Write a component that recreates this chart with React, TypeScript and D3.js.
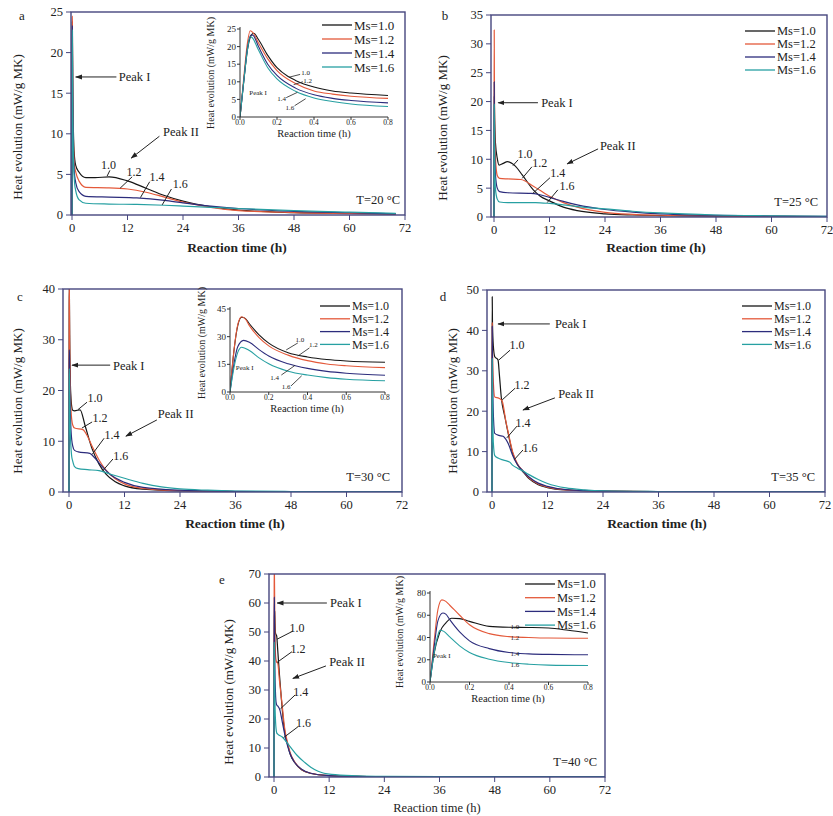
import React from "react";
import * as d3 from "d3";

type Pt = [number, number];

const seriesNames = ["Ms=1.0", "Ms=1.2", "Ms=1.4", "Ms=1.6"];
const curveTags = ["1.0", "1.2", "1.4", "1.6"];
const seriesColors = ["#161616", "#e4593a", "#2c2c7c", "#27a0a2"];
const mainTimeTicks = [0, 12, 24, 36, 48, 60, 72];
const insetTimeTicks = [0, 0.2, 0.4, 0.6, 0.8];
const temperatures = [20, 25, 30, 35, 40];

// ---- T = 20 °C : first 0.8 h (also the inset) and the long tail
const a10Early: Pt[] = [[0, 0], [0.02, 10], [0.04, 19], [0.06, 23.2], [0.075, 23.8], [0.1, 22], [0.15, 17.5], [0.2, 14], [0.26, 11.5], [0.3, 10.4], [0.4, 8.5], [0.5, 7.4], [0.6, 6.8], [0.8, 6.1]];
const a12Early: Pt[] = [[0, 0], [0.02, 11], [0.04, 21], [0.055, 24.5], [0.07, 24], [0.1, 21], [0.15, 16.5], [0.2, 13.2], [0.3, 9.5], [0.4, 7.4], [0.5, 6.5], [0.6, 5.9], [0.8, 5.3]];
const a14Early: Pt[] = [[0, 0], [0.02, 10], [0.04, 19.5], [0.06, 23.3], [0.07, 23.2], [0.1, 20], [0.15, 15], [0.2, 11.8], [0.3, 8.2], [0.4, 6.3], [0.5, 5.3], [0.6, 4.7], [0.8, 4.0]];
const a16Early: Pt[] = [[0, 0], [0.02, 10], [0.04, 19], [0.055, 22.8], [0.065, 22.6], [0.1, 19], [0.15, 14], [0.2, 10.8], [0.3, 7.3], [0.4, 5.4], [0.5, 4.4], [0.6, 3.7], [0.8, 3.0]];
const a10Late: Pt[] = [[1.5, 5.3], [3, 4.6], [5, 4.6], [8, 4.7], [12, 4.2], [16, 3.3], [20, 2.4], [24, 1.7], [30, 1.0], [36, 0.6], [48, 0.3], [60, 0.2], [70, 0.12]];
const a12Late: Pt[] = [[1.5, 4.2], [3, 3.4], [8, 3.35], [12, 3.2], [16, 2.8], [20, 2.2], [24, 1.6], [30, 0.95], [36, 0.55], [48, 0.3], [60, 0.18], [70, 0.1]];
const a14Late: Pt[] = [[1.5, 2.9], [3, 2.3], [8, 2.2], [14, 2.1], [20, 1.8], [24, 1.5], [30, 1.1], [36, 0.8], [48, 0.45], [60, 0.28], [70, 0.15]];
const a16Late: Pt[] = [[1.5, 1.9], [3, 1.45], [8, 1.35], [14, 1.3], [20, 1.2], [24, 1.1], [30, 0.95], [36, 0.8], [48, 0.55], [60, 0.35], [70, 0.2]];

// ---- T = 25 °C
const b10: Pt[] = [[0, 0], [0.03, 14], [0.06, 21], [0.1, 19], [0.3, 13], [0.7, 10.2], [1.1, 9.0], [2, 9.3], [2.9, 9.6], [4.5, 8.9], [6.1, 7.3], [8.5, 4.7], [10, 3.6], [12, 2.8], [15, 1.7], [18, 1.1], [24, 0.55], [30, 0.35], [36, 0.25], [48, 0.15], [60, 0.1], [72, 0.05]];
const b12: Pt[] = [[0, 0], [0.025, 18], [0.05, 32.4], [0.08, 25], [0.15, 15], [0.3, 10.5], [0.7, 7.2], [1.2, 6.7], [3, 6.6], [5.8, 6.5], [8.6, 5.3], [12.2, 3.5], [15, 2.5], [18, 1.7], [24, 0.8], [30, 0.45], [36, 0.3], [48, 0.18], [60, 0.1], [72, 0.05]];
const b14: Pt[] = [[0, 0], [0.03, 15], [0.05, 23.4], [0.08, 18], [0.15, 11], [0.3, 7.5], [0.7, 5], [1.2, 4.4], [3, 4.2], [8, 4.1], [9.7, 3.9], [12, 3.4], [15, 2.7], [18, 2.1], [24, 1.3], [30, 0.85], [36, 0.55], [48, 0.3], [60, 0.17], [72, 0.1]];
const b16: Pt[] = [[0, 0], [0.03, 13], [0.05, 19.5], [0.08, 15], [0.15, 8.5], [0.3, 5], [0.7, 3.1], [1.2, 2.6], [3, 2.5], [9, 2.5], [12, 2.35], [15, 2.1], [18, 1.8], [24, 1.4], [30, 1.0], [36, 0.7], [48, 0.35], [60, 0.2], [72, 0.1]];

// ---- T = 30 °C
const c10Early: Pt[] = [[0, 0], [0.02, 22], [0.04, 36], [0.06, 40.5], [0.08, 39.8], [0.1, 37], [0.15, 31], [0.2, 26.5], [0.3, 21.3], [0.4, 19], [0.5, 17.6], [0.6, 16.8], [0.8, 16.1]];
const c12Early: Pt[] = [[0, 0], [0.02, 22], [0.04, 36.5], [0.06, 40.8], [0.08, 39.5], [0.1, 36], [0.15, 29.5], [0.2, 25], [0.3, 20], [0.4, 17], [0.5, 15.2], [0.6, 14.2], [0.8, 13.2]];
const c14Early: Pt[] = [[0, 0], [0.02, 15], [0.04, 24.5], [0.07, 28], [0.1, 27], [0.15, 23], [0.2, 19.5], [0.3, 15.3], [0.4, 12.8], [0.5, 11.2], [0.6, 10.2], [0.8, 9.1]];
const c16Early: Pt[] = [[0, 0], [0.02, 13], [0.04, 21.5], [0.06, 24.3], [0.1, 22.5], [0.15, 18.5], [0.2, 15.3], [0.3, 11.3], [0.4, 9.2], [0.5, 7.8], [0.6, 6.9], [0.8, 6.1]];
const c10Late: Pt[] = [[1.2, 16], [2.4, 16.2], [3.5, 13], [5, 8.5], [6.5, 5.5], [8, 3.5], [10, 2], [12, 1.2], [16, 0.55], [24, 0.2], [36, 0.1], [48, 0.05], [72, 0.02]];
const c12Late: Pt[] = [[1.2, 12.6], [3, 12.3], [4, 11], [5, 9], [6.5, 6.3], [8, 4.3], [10, 2.6], [12, 1.6], [16, 0.7], [24, 0.25], [36, 0.1], [48, 0.05], [72, 0.02]];
const c14Late: Pt[] = [[1.2, 8.2], [2, 7.9], [4.5, 7.6], [5.5, 6.8], [7, 5.2], [9, 3.4], [12, 1.9], [16, 0.9], [24, 0.35], [36, 0.12], [48, 0.06], [72, 0.02]];
const c16Late: Pt[] = [[1.2, 5], [2, 4.6], [4, 4.4], [6.5, 4.2], [9, 3.5], [12, 2.7], [16, 1.7], [20, 1.0], [24, 0.6], [30, 0.35], [36, 0.2], [48, 0.1], [72, 0.04]];

// ---- T = 35 °C
const d10: Pt[] = [[0, 0], [0.025, 30], [0.05, 48.3], [0.1, 42], [0.3, 36], [0.6, 33.5], [1.3, 32.7], [1.6, 29], [2, 23.5], [2.8, 18.5], [3.5, 14.5], [4.5, 9.5], [5.5, 6.8], [6.7, 5.0], [8, 3.3], [10, 1.8], [12, 1.1], [16, 0.5], [24, 0.2], [36, 0.08], [48, 0.05], [72, 0.02]];
const d12: Pt[] = [[0, 0], [0.025, 28], [0.05, 42], [0.1, 36], [0.3, 27], [0.6, 23.5], [1.5, 23.2], [2.2, 22.5], [3, 17.5], [3.5, 14.8], [4.5, 9.8], [5.5, 7], [6.7, 5.2], [8, 3.5], [10, 2], [12, 1.2], [16, 0.55], [24, 0.22], [36, 0.09], [48, 0.05], [72, 0.02]];
const d14: Pt[] = [[0, 0], [0.025, 27], [0.05, 41], [0.1, 33], [0.3, 19], [0.6, 14.5], [1.5, 14], [2.4, 13.8], [2.9, 13.2], [3.5, 12], [4.5, 9], [5.5, 6.8], [6.7, 5.2], [8, 3.7], [10, 2.2], [12, 1.4], [16, 0.6], [24, 0.25], [36, 0.1], [48, 0.05], [72, 0.02]];
const d16: Pt[] = [[0, 0], [0.025, 22], [0.05, 33], [0.1, 25], [0.3, 12], [0.6, 9], [1.3, 8.4], [2.5, 7.9], [3.8, 7.4], [4.5, 6.6], [5.5, 5.9], [6.7, 5.2], [8, 4.3], [10, 3.1], [12, 2.1], [16, 1.0], [20, 0.55], [24, 0.3], [36, 0.12], [48, 0.05], [72, 0.03]];

// ---- T = 40 °C
const e10Early: Pt[] = [[0, 0], [0.02, 25], [0.05, 45], [0.08, 53], [0.11, 57.3], [0.15, 57], [0.2, 54.5], [0.3, 50], [0.4, 49.2], [0.5, 49], [0.6, 48.5], [0.7, 46.5], [0.8, 44]];
const e12Early: Pt[] = [[0, 0], [0.02, 35], [0.04, 65], [0.06, 73.8], [0.08, 72.5], [0.1, 69], [0.15, 60], [0.2, 51.5], [0.3, 43.5], [0.4, 40.8], [0.5, 40], [0.6, 39.5], [0.8, 39.3]];
const e14Early: Pt[] = [[0, 0], [0.02, 30], [0.04, 55], [0.065, 62], [0.08, 61], [0.1, 56], [0.15, 45], [0.2, 37], [0.3, 30], [0.4, 26.5], [0.5, 25.3], [0.6, 24.8], [0.8, 24.5]];
const e16Early: Pt[] = [[0, 0], [0.02, 25], [0.04, 42], [0.05, 46.5], [0.07, 45.5], [0.1, 40.5], [0.15, 32.5], [0.2, 26.5], [0.3, 20.5], [0.4, 17.5], [0.5, 16], [0.6, 15.2], [0.8, 14.8]];
const e10Late: Pt[] = [[1.2, 35], [1.6, 27], [2.2, 17], [3, 11], [3.5, 8], [4.5, 5], [6, 2.5], [8, 1.2], [12, 0.5], [18, 0.22], [24, 0.12], [36, 0.06], [72, 0.02]];
const e12Late: Pt[] = [[1.2, 33], [1.7, 26], [2.3, 17], [3, 11.5], [3.5, 8.5], [4.5, 5.2], [6, 2.6], [8, 1.3], [12, 0.5], [18, 0.22], [24, 0.12], [36, 0.06], [72, 0.02]];
const e14Late: Pt[] = [[1.3, 23], [1.8, 19], [2.5, 13.5], [3, 10.5], [3.5, 8], [4.5, 5], [6, 2.7], [8, 1.3], [12, 0.5], [18, 0.22], [24, 0.12], [36, 0.06], [72, 0.02]];
const e16Late: Pt[] = [[1.8, 13.8], [2.5, 12.5], [3.5, 10.5], [5, 7.5], [6.7, 5], [8, 3.4], [9.6, 2], [12.5, 0.9], [18, 0.4], [24, 0.2], [36, 0.1], [72, 0.03]];

type Box = { left: number; right: number; top: number; bottom: number; x0?: number };
type Tag = { text: string; at: Pt; from?: Pt; to?: Pt };
type InsetCfg = {
  box: Box; yMax: number; yTicks: number[]; series: Pt[][]; tags: Tag[];
  peakText: Pt; yTitle: [number, number]; xTitle: [number, number];
};
type PanelCfg = {
  letter: string; temp: number; box: Box; yMax: number; yTicks: number[]; series: Pt[][];
  tags: Tag[];
  peak1: { y: number; from: number; to: number; textX: number };
  peak2: { text: Pt; from: Pt; to: Pt };
  legend: { x: number; y: number; gap: number; size: number };
  yTitle: [number, number]; xTitle: [number, number]; xTitleBold: boolean;
  letterPos: [number, number]; tempPos: [number, number];
  inset?: InsetCfg;
};

const withTags = (spec: [Pt, Pt?, Pt?][]): Tag[] =>
  spec.map((s, i) => ({ text: curveTags[i], at: s[0], from: s[1], to: s[2] }));

const panels: PanelCfg[] = [
  {
    letter: "a", temp: temperatures[0],
    box: { left: 71, x0: 72, right: 405, top: 12, bottom: 215 },
    yMax: 25, yTicks: [0, 5, 10, 15, 20, 25],
    series: [a10Early.concat(a10Late), a12Early.concat(a12Late), a14Early.concat(a14Late), a16Early.concat(a16Late)],
    tags: withTags([
      [[7.9, 6.2], [8.2, 5.5], [7.6, 4.8]],
      [[13.4, 5.3], [13.0, 4.7], [10.4, 3.3]],
      [[18.4, 4.7], [16.8, 4.1], [14.8, 2.15]],
      [[23.4, 3.8], [21.5, 3.2], [19.5, 1.25]],
    ]),
    peak1: { y: 17, from: 9.6, to: 0.8, textX: 10.1 },
    peak2: { text: [19.7, 10.3], from: [18.9, 9.7], to: [12.8, 7.0] },
    legend: { x: 322, y: 25, gap: 14, size: 13 },
    yTitle: [17, 127], xTitle: [237, 247], xTitleBold: true,
    letterPos: [22, 15], tempPos: [400, 200],
    inset: {
      box: { left: 240, right: 388, top: 29, bottom: 117 },
      yMax: 25, yTicks: [0, 5, 10, 15, 20, 25],
      series: [a10Early, a12Early, a14Early, a16Early],
      tags: withTags([
        [[0.355, 12.6], [0.325, 12.1], [0.265, 11.3]],
        [[0.365, 10.4], [0.34, 10.0], [0.29, 9.2]],
        [[0.225, 5.1], [0.25, 5.5], [0.31, 7.0]],
        [[0.27, 2.8], [0.295, 3.2], [0.355, 5.2]],
      ]),
      peakText: [0.05, 7], yTitle: [214, 73], xTitle: [314, 133],
    },
  },
  {
    letter: "b", temp: temperatures[1],
    box: { left: 491, x0: 494, right: 827, top: 15, bottom: 217 },
    yMax: 35, yTicks: [0, 5, 10, 15, 20, 25, 30, 35],
    series: [b10, b12, b14, b16],
    tags: withTags([
      [[6.7, 10.9], [5.2, 9.9], [4.1, 8.9]],
      [[9.9, 9.4], [8.2, 8.7], [6.1, 6.7]],
      [[13.8, 7.6], [12.1, 6.8], [8.4, 4.1]],
      [[15.8, 5.4], [13.8, 4.7], [11.5, 2.5]],
    ]),
    peak1: { y: 19.8, from: 9.5, to: 0.9, textX: 10.2 },
    peak2: { text: [22.9, 12.3], from: [22.5, 11.8], to: [15.8, 9.2] },
    legend: { x: 745, y: 31, gap: 13, size: 12.5 },
    yTitle: [442, 128], xTitle: [656, 247], xTitleBold: true,
    letterPos: [445, 15], tempPos: [818, 202],
  },
  {
    letter: "c", temp: temperatures[2],
    box: { left: 63, x0: 69, right: 402, top: 289, bottom: 492 },
    yMax: 40, yTicks: [0, 10, 20, 30, 40],
    series: [c10Early.concat(c10Late), c12Early.concat(c12Late), c14Early.concat(c14Late), c16Early.concat(c16Late)],
    tags: withTags([
      [[5.6, 18.5], [3.9, 17.7], [1.9, 16.2]],
      [[6.7, 14.6], [5.0, 13.8], [2.8, 12.6]],
      [[9.3, 11.2], [7.6, 10.6], [5.0, 7.4]],
      [[11.2, 7.1], [9.5, 6.5], [7.4, 4.3]],
    ]),
    peak1: { y: 25, from: 8.9, to: 0.65, textX: 9.5 },
    peak2: { text: [19.2, 15.4], from: [19.0, 14.2], to: [12.3, 11.0] },
    legend: { x: 320, y: 306, gap: 12.8, size: 12 },
    yTitle: [17, 401], xTitle: [235, 523], xTitleBold: true,
    letterPos: [20, 296], tempPos: [390, 477],
    inset: {
      box: { left: 230, right: 385, top: 309, bottom: 392 },
      yMax: 45, yTicks: [0, 15, 30, 45],
      series: [c10Early, c12Early, c14Early, c16Early],
      tags: withTags([
        [[0.36, 28.2], [0.35, 26.6], [0.29, 22.8]],
        [[0.43, 25.5], [0.41, 23.9], [0.35, 19.5]],
        [[0.23, 8.1], [0.265, 9.2], [0.335, 14.4]],
        [[0.29, 2.7], [0.315, 3.3], [0.37, 8.8]],
      ]),
      peakText: [0.03, 13], yTitle: [205, 343], xTitle: [307, 408],
    },
  },
  {
    letter: "d", temp: temperatures[3],
    box: { left: 487, x0: 492, right: 825, top: 290, bottom: 492 },
    yMax: 50, yTicks: [0, 10, 20, 30, 40, 50],
    series: [d10, d12, d14, d16],
    tags: withTags([
      [[5.4, 36.4], [3.9, 35.1], [1.5, 32.7]],
      [[6.5, 26.5], [5.0, 25.7], [2.2, 22.8]],
      [[6.7, 17.1], [5.4, 16.3], [3.2, 13.4]],
      [[8.2, 10.9], [6.7, 10.4], [4.8, 8.0]],
    ]),
    peak1: { y: 41.6, from: 12.5, to: 1.3, textX: 13.6 },
    peak2: { text: [14.3, 24.3], from: [13.6, 23.3], to: [6.7, 20.3] },
    legend: { x: 742, y: 306, gap: 12.8, size: 12 },
    yTitle: [452, 401], xTitle: [657, 523], xTitleBold: true,
    letterPos: [443, 296], tempPos: [815, 477],
  },
  {
    letter: "e", temp: temperatures[4],
    box: { left: 269, x0: 274, right: 605, top: 574, bottom: 777 },
    yMax: 70, yTicks: [0, 10, 20, 30, 40, 50, 60, 70],
    series: [e10Early.concat(e10Late), e12Early.concat(e12Late), e14Early.concat(e14Late), e16Early.concat(e16Late)],
    tags: withTags([
      [[5.0, 51.5], [4.1, 50.3], [0.65, 47.5]],
      [[5.2, 44.3], [3.9, 43.2], [0.65, 39.5]],
      [[5.8, 29.5], [4.6, 28.3], [1.4, 23.5]],
      [[6.4, 18.8], [5.2, 17.3], [2.1, 13.6]],
    ]),
    peak1: { y: 60, from: 11.5, to: 0.7, textX: 12.2 },
    peak2: { text: [12.0, 39.7], from: [11.3, 38.3], to: [4.1, 34] },
    legend: { x: 525, y: 584, gap: 13.7, size: 12.5 },
    yTitle: [228, 692], xTitle: [437, 808], xTitleBold: false,
    letterPos: [222, 579], tempPos: [597, 762],
    inset: {
      box: { left: 430, right: 588, top: 593, bottom: 682 },
      yMax: 80, yTicks: [0, 20, 40, 60, 80],
      series: [e10Early, e12Early, e14Early, e16Early],
      tags: withTags([[[0.43, 49.5]], [[0.43, 40]], [[0.43, 25.5]], [[0.43, 15.5]]]),
      peakText: [0.015, 24], yTitle: [403, 632], xTitle: [508, 698],
    },
  },
];

const FONT = "'Liberation Serif', 'Times New Roman', serif";
const INK = "#222";
const FRAME = "#46467e";

function Inset({ cfg, id }: { cfg: InsetCfg; id: string }) {
  const { box } = cfg;
  const x = d3.scaleLinear().domain([0, 0.8]).range([box.left, box.right]);
  const y = d3.scaleLinear().domain([0, cfg.yMax]).range([box.bottom, box.top]);
  const line = d3.line<Pt>().x((d) => x(d[0])).y((d) => y(d[1])).curve(d3.curveMonotoneX);
  const clip = `inset-clip-${id}`;
  return (
    <g>
      <clipPath id={clip}>
        <rect x={box.left} y={box.top - 2} width={box.right - box.left + 2} height={box.bottom - box.top + 2} />
      </clipPath>
      <g clipPath={`url(#${clip})`}>
        {cfg.series.map((s, i) => (
          <path key={i} d={line(s) ?? ""} fill="none" stroke={seriesColors[i]} strokeWidth={1.1} />
        ))}
      </g>
      <line x1={box.left} x2={box.left} y1={box.top - 2} y2={box.bottom} stroke="#333" strokeWidth={1} />
      <line x1={box.left} x2={box.right} y1={box.bottom} y2={box.bottom} stroke="#333" strokeWidth={1} />
      {cfg.yTicks.map((v) => (
        <g key={v}>
          <line x1={box.left - 3} x2={box.left} y1={y(v)} y2={y(v)} stroke="#333" />
          <text x={box.left - 4} y={y(v)} dy="0.35em" textAnchor="end" fontSize={9} fill={INK}>{v}</text>
        </g>
      ))}
      {insetTimeTicks.map((t) => (
        <g key={t}>
          <line x1={x(t)} x2={x(t)} y1={box.bottom} y2={box.bottom + 3} stroke="#333" />
          <text x={x(t)} y={box.bottom + 8} textAnchor="middle" fontSize={7.5} fill={INK}>{t.toFixed(1)}</text>
        </g>
      ))}
      {cfg.tags.map((tg, i) => (
        <g key={i}>
          {tg.from && tg.to && (
            <line x1={x(tg.from[0])} y1={y(tg.from[1])} x2={x(tg.to[0])} y2={y(tg.to[1])} stroke={INK} strokeWidth={0.8} />
          )}
          <text x={x(tg.at[0])} y={y(tg.at[1])} dy="0.35em" textAnchor="middle" fontSize={7} fill={INK}>{tg.text}</text>
        </g>
      ))}
      <text x={x(cfg.peakText[0])} y={y(cfg.peakText[1])} dy="0.35em" fontSize={7} fill={INK}>Peak I</text>
      <text transform={`translate(${cfg.yTitle[0]},${cfg.yTitle[1]}) rotate(-90)`} textAnchor="middle" fontSize={10} fill={INK}>
        Heat evolution (mW/g MK)
      </text>
      <text x={cfg.xTitle[0]} y={cfg.xTitle[1]} dy="0.35em" textAnchor="middle" fontSize={10.5} fill={INK}>Reaction time (h)</text>
    </g>
  );
}

function Panel({ p }: { p: PanelCfg }) {
  const { box } = p;
  const x = d3.scaleLinear().domain([0, 72]).range([box.x0 ?? box.left, box.right]);
  const y = d3.scaleLinear().domain([0, p.yMax]).range([box.bottom, box.top]);
  const line = d3.line<Pt>().x((d) => x(d[0])).y((d) => y(d[1])).curve(d3.curveMonotoneX);
  const clip = `main-clip-${p.letter}`;
  return (
    <g>
      <clipPath id={clip}>
        <rect x={box.left} y={box.top} width={box.right - box.left} height={box.bottom - box.top} />
      </clipPath>
      <g clipPath={`url(#${clip})`}>
        {p.series.map((s, i) => (
          <path key={i} d={line(s) ?? ""} fill="none" stroke={seriesColors[i]} strokeWidth={1.2} />
        ))}
      </g>
      <rect x={box.left} y={box.top} width={box.right - box.left} height={box.bottom - box.top}
        fill="none" stroke={FRAME} strokeWidth={1.4} />
      {p.yTicks.map((v) => (
        <g key={v}>
          <line x1={box.left - 5} x2={box.left} y1={y(v)} y2={y(v)} stroke={FRAME} />
          <text x={box.left - 8} y={y(v)} dy="0.35em" textAnchor="end" fontSize={12.5} fill={INK}>{v}</text>
        </g>
      ))}
      {mainTimeTicks.map((t) => (
        <g key={t}>
          <line x1={x(t)} x2={x(t)} y1={box.bottom} y2={box.bottom + 5} stroke={FRAME} />
          <text x={x(t)} y={box.bottom + 17} textAnchor="middle" fontSize={12.5} fill={INK}>{t}</text>
        </g>
      ))}
      {p.tags.map((tg, i) => (
        <g key={i}>
          {tg.from && tg.to && (
            <line x1={x(tg.from[0])} y1={y(tg.from[1])} x2={x(tg.to[0])} y2={y(tg.to[1])} stroke={INK} strokeWidth={1} />
          )}
          <text x={x(tg.at[0])} y={y(tg.at[1])} dy="0.35em" textAnchor="middle" fontSize={12} fill={INK}>{tg.text}</text>
        </g>
      ))}
      <line x1={x(p.peak1.from)} x2={x(p.peak1.to)} y1={y(p.peak1.y)} y2={y(p.peak1.y)}
        stroke={INK} strokeWidth={1} markerEnd="url(#arrowhead)" />
      <text x={x(p.peak1.textX)} y={y(p.peak1.y)} dy="0.35em" fontSize={12.5} fill={INK}>Peak I</text>
      <line x1={x(p.peak2.from[0])} y1={y(p.peak2.from[1])} x2={x(p.peak2.to[0])} y2={y(p.peak2.to[1])}
        stroke={INK} strokeWidth={1} markerEnd="url(#arrowhead)" />
      <text x={x(p.peak2.text[0])} y={y(p.peak2.text[1])} dy="0.35em" fontSize={12.5} fill={INK}>Peak II</text>
      {seriesNames.map((name, i) => {
        const ly = p.legend.y + i * p.legend.gap;
        return (
          <g key={name}>
            <line x1={p.legend.x} x2={p.legend.x + 30} y1={ly} y2={ly} stroke={seriesColors[i]} strokeWidth={1.3} />
            <text x={p.legend.x + 32} y={ly} dy="0.35em" fontSize={p.legend.size} fill={INK}>{name}</text>
          </g>
        );
      })}
      <text x={p.tempPos[0]} y={p.tempPos[1]} dy="0.35em" textAnchor="end" fontSize={12.5} fill={INK}>
        {`T=${p.temp} °C`}
      </text>
      <text x={p.letterPos[0]} y={p.letterPos[1]} dy="0.35em" textAnchor="middle" fontSize={13} fill={INK}>{p.letter}</text>
      <text transform={`translate(${p.yTitle[0]},${p.yTitle[1]}) rotate(-90)`} dy="0.35em" textAnchor="middle"
        fontSize={13} fill={INK}>
        Heat evolution (mW/g MK)
      </text>
      <text x={p.xTitle[0]} y={p.xTitle[1]} dy="0.35em" textAnchor="middle"
        fontSize={p.xTitleBold ? 13.5 : 12.5} fontWeight={p.xTitleBold ? "bold" : "normal"} fill={INK}>
        Reaction time (h)
      </text>
      {p.inset && <Inset cfg={p.inset} id={p.letter} />}
    </g>
  );
}

export default function App() {
  return (
    <svg width={833} height={816} style={{ position: "absolute", left: 0, top: 0, background: "#fff" }}
      fontFamily={FONT}>
      <defs>
        <marker id="arrowhead" viewBox="0 0 10 10" refX="9" refY="5" markerWidth="7" markerHeight="7"
          orient="auto" markerUnits="userSpaceOnUse">
          <path d="M0,1.5 L10,5 L0,8.5 Z" fill={INK} />
        </marker>
      </defs>
      <rect x={0} y={0} width={833} height={816} fill="#fff" />
      {panels.map((p) => (
        <Panel key={p.letter} p={p} />
      ))}
    </svg>
  );
}
